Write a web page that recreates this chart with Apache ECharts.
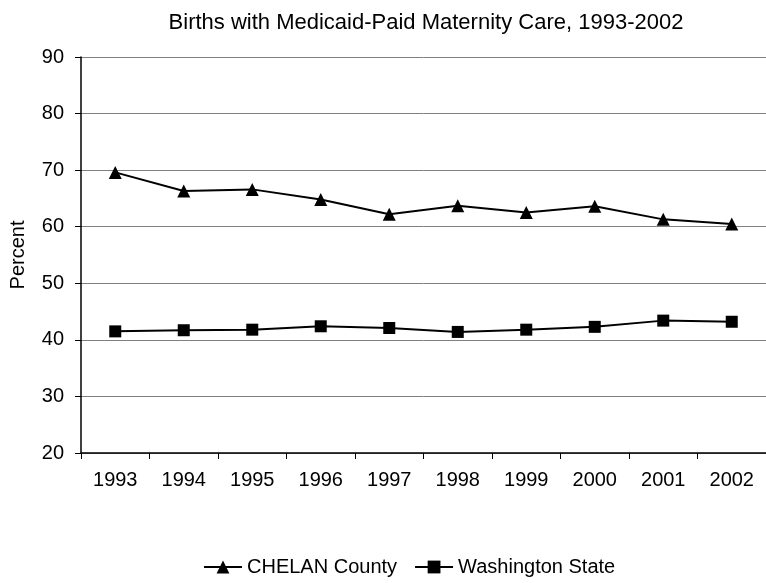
<!DOCTYPE html>
<html>
<head>
<meta charset="utf-8">
<script src="https://cdn.jsdelivr.net/npm/echarts@6/dist/echarts.min.js"></script>
<style>
html, body { margin: 0; padding: 0; background: #fff; }
#chart { width: 766px; height: 583px; }
</style>
</head>
<body>
<div id="chart"></div>
<script>
const years = ['1993', '1994', '1995', '1996', '1997', '1998', '1999', '2000', '2001', '2002'];
const chelan = [69.6, 66.3, 66.6, 64.8, 62.2, 63.7, 62.5, 63.6, 61.3, 60.5];
const washington = [41.5, 41.7, 41.8, 42.4, 42.1, 41.4, 41.8, 42.3, 43.4, 43.2];

const font = 'Liberation Sans, Arial, sans-serif';
const chart = echarts.init(document.getElementById('chart'));

chart.setOption({
    animation: false,
    backgroundColor: '#fff',
    textStyle: { fontFamily: font, color: '#000' },
    title: {
        text: 'Births with Medicaid-Paid Maternity Care, 1993-2002',
        left: 421,
        top: 7,
        textAlign: 'center',
        textStyle: { fontFamily: font, fontSize: 22, fontWeight: 'normal', color: '#000' }
    },
    legend: {
        bottom: 1,
        left: 198,
        itemWidth: 38,
        itemHeight: 16,
        itemGap: 17,
        textStyle: { fontFamily: font, fontSize: 20, color: '#000' },
        data: ['CHELAN County', 'Washington State']
    },
    grid: { left: 79, right: -7, top: 57, bottom: 130 },
    xAxis: {
        type: 'category',
        data: years,
        boundaryGap: true,
        axisLine: { lineStyle: { color: '#000', width: 1.5 } },
        axisTick: { show: true, length: 6, lineStyle: { color: '#000' } },
        axisLabel: { fontSize: 20, color: '#000', margin: 17, fontFamily: font }
    },
    yAxis: {
        type: 'value',
        min: 20,
        max: 90,
        interval: 10,
        name: 'Percent',
        nameLocation: 'middle',
        nameGap: 53,
        nameTextStyle: { fontSize: 20, color: '#000', fontFamily: font },
        axisLine: { show: true, lineStyle: { color: '#000', width: 1.5 } },
        axisTick: { show: true, length: 6, lineStyle: { color: '#000' } },
        axisLabel: { fontSize: 20, color: '#000', margin: 17, fontFamily: font },
        splitLine: { lineStyle: { color: '#808080', width: 1 } }
    },
    series: [
        {
            name: 'CHELAN County',
            type: 'line',
            data: chelan,
            symbol: 'triangle',
            symbolSize: 13,
            itemStyle: { color: '#000' },
            lineStyle: { color: '#000', width: 2 }
        },
        {
            name: 'Washington State',
            type: 'line',
            data: washington,
            symbol: 'rect',
            symbolSize: 12,
            itemStyle: { color: '#000' },
            lineStyle: { color: '#000', width: 2 }
        }
    ]
});
</script>
</body>
</html>
